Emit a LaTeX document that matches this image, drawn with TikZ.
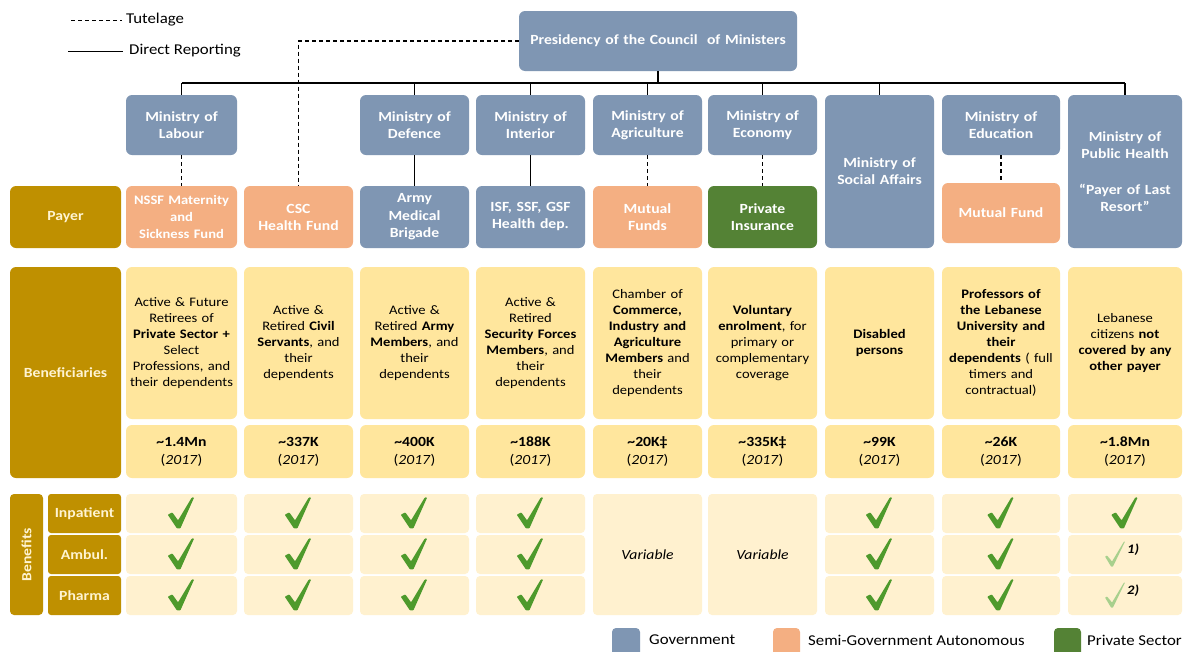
\documentclass[tikz,border=0pt]{standalone}
\usepackage{fontspec}
\setmainfont{Carlito}[FakeStretch=1.12]
\usetikzlibrary{calc}
\definecolor{gov}{HTML}{7F96B3}
\definecolor{semi}{HTML}{F4AF82}
\definecolor{priv}{HTML}{548235}
\definecolor{gold}{HTML}{BF9000}
\definecolor{benef}{HTML}{FFE69D}
\definecolor{benlight}{HTML}{FFF1CF}
\definecolor{chk}{HTML}{4E9A2C}
\definecolor{chklight}{HTML}{A8D08D}
\definecolor{paletext}{HTML}{FFF4D2}

\newcommand\cellbox[7]{%
 \pgfmathsetmacro\cw{#5-#3}\pgfmathsetmacro\ch{#6-#4}%
 \pgfmathsetmacro\cx{(#3+#5)/2}\pgfmathsetmacro\cy{(#4+#6)/2}%
 \pgfmathsetmacro\tw{#5-#3-4}%
 \node[#2, minimum width=\cw pt, minimum height=\ch pt, text width=\tw pt] (#1) at (\cx,\cy) {#7};}

\tikzset{
 box/.style={rounded corners=6pt, inner sep=2pt, align=center, font=\bfseries\fontsize{14}{17}\selectfont, text=white},
 govbox/.style={box, fill=gov},
 semibox/.style={box, fill=semi},
 privbox/.style={box, fill=priv},
 labbox/.style={box, fill=gold, text=paletext},
 descbox/.style={rounded corners=6pt, inner sep=2pt, align=center, fill=benef, text=black, font=\fontsize{13}{16}\selectfont},
 numbox/.style={descbox, font=\fontsize{14}{18}\selectfont},
 benbox/.style={rounded corners=4pt, inner sep=2pt, align=center, fill=benlight, text=black, font=\itshape\fontsize{14}{17}\selectfont},
 direct/.style={draw=black, line width=1.2pt},
 tut/.style={draw=black, line width=1.1pt, dash pattern=on 4pt off 3pt},
 legtext/.style={anchor=west, inner sep=0pt, font=\fontsize{15}{18}\selectfont},
 pics/tick/.style={code={
   \fill[#1, rounded corners=0.8pt, scale=1.15] (-12,1) -- (-8,-1) -- (-3,6) -- (9,-14) -- (11,-14) -- (-1,13) -- (-4,13) -- cycle;}},
 pics/thintick/.style={code={
   \fill[#1, rounded corners=0.5pt] (-10,2) -- (-8,1) -- (-3,7) -- (9,-13) -- (10,-13) -- (-2,12) -- (-4,12) -- cycle;}},
}

\begin{document}
\begin{tikzpicture}[x=1pt,y=-1pt]
\useasboundingbox (0,0) rectangle (1184,651);
\fill[white] (0,0) rectangle (1184,651);

% top-left legend
\coordinate (tA) at (71,20); \coordinate (tB) at (122,20);
\coordinate (dA) at (68,51); \coordinate (dB) at (123,51);
\draw[draw=black, line width=0.9pt, dash pattern=on 4pt off 3pt] (tA) -- (tB);
\draw[direct, line width=1pt] (dA) -- (dB);
\node[legtext] (tutl) at (126,20) {Tutelage};
\node[legtext] (dirl) at (129,51) {Direct Reporting};

% presidency
\cellbox{pres}{govbox}{519}{11}{797}{71}{Presidency of the Council\ \ of Ministers}

% ministries
\cellbox{m1}{govbox}{126}{95}{237}{155}{Ministry of\\Labour}
\cellbox{m3}{govbox}{360}{95}{469}{155}{Ministry of\\Defence}
\cellbox{m4}{govbox}{476}{95}{585}{155}{Ministry of\\Interior}
\cellbox{m5}{govbox}{593}{95}{702}{155}{Ministry of\\Agriculture}
\cellbox{m6}{govbox}{708}{95}{817}{155}{Ministry of\\Economy}
\cellbox{m7}{govbox}{825}{95}{934}{248}{Ministry of\\Social Affairs}
\cellbox{m8}{govbox}{942}{95}{1060}{155}{Ministry of\\Education}
\cellbox{m9}{govbox}{1068}{95}{1182}{248}{Ministry of\\Public Health\\[19pt]\textquotedblleft Payer of Last\\Resort\textquotedblright}

% payers
\cellbox{payer}{labbox}{10}{186}{121}{248}{Payer}
\cellbox{p1}{semibox, font=\bfseries\fontsize{13}{17}\selectfont}{126}{186}{237}{248}{NSSF Maternity\\and\\Sickness Fund}
\cellbox{p2}{semibox}{244}{186}{353}{248}{CSC\\Health Fund}
\cellbox{p3}{govbox, font=\bfseries\fontsize{14}{17.5}\selectfont}{360}{186}{469}{248}{Army\\Medical\\Brigade}
\cellbox{p4}{govbox}{476}{186}{585}{248}{ISF, SSF, GSF\\Health dep.}
\cellbox{p5}{semibox}{593}{186}{702}{248}{Mutual\\Funds}
\cellbox{p6}{privbox}{708}{186}{817}{248}{Private\\Insurance}
\cellbox{p8}{semibox}{942}{183}{1060}{243}{Mutual Fund}

% connectors
\coordinate (busy) at (0,83);
\draw[direct, line width=2.2pt] (pres.south) -- (pres.south |- busy);
\draw[direct] (m1.north |- busy) -- (m9.north |- busy);
\foreach \m in {m1,m3,m4,m5,m6,m7,m9} \draw[direct] (\m.north |- busy) -- (\m.north);
\draw[tut] (pres.west) -| (p2.north);
\draw[tut] (m1.south) -- (p1.north);
\draw[direct] (m3.south) -- (p3.north);
\draw[direct] (m4.south) -- (p4.north);
\draw[tut] (m5.south) -- (p5.north);
\draw[tut] (m6.south) -- (p6.north);
\draw[tut] (m8.south) -- (p8.north);

% beneficiaries
\cellbox{benl}{labbox}{10}{267}{121}{478}{Beneficiaries}
\cellbox{d1}{descbox}{126}{267}{237}{419}{Active \& Future\\Retirees of\\\textbf{Private Sector +}\\Select\\Professions, and\\their dependents}
\cellbox{d2}{descbox}{244}{267}{353}{419}{Active \&\\Retired \textbf{Civil}\\\textbf{Servants}, and\\their\\dependents}
\cellbox{d3}{descbox}{360}{267}{469}{419}{Active \&\\Retired \textbf{Army}\\\textbf{Members}, and\\their\\dependents}
\cellbox{d4}{descbox}{476}{267}{585}{419}{Active \&\\Retired\\\textbf{Security Forces}\\\textbf{Members}, and\\their\\dependents}
\cellbox{d5}{descbox}{593}{267}{702}{419}{Chamber of\\\textbf{Commerce,}\\\textbf{Industry and}\\\textbf{Agriculture}\\\textbf{Members} and\\their\\dependents}
\cellbox{d6}{descbox}{708}{267}{817}{419}{\textbf{Voluntary}\\\textbf{enrolment}, for\\primary or\\complementary\\coverage}
\cellbox{d7}{descbox}{825}{267}{934}{419}{\textbf{Disabled}\\\textbf{persons}}
\cellbox{d8}{descbox}{942}{267}{1060}{419}{\textbf{Professors of}\\\textbf{the Lebanese}\\\textbf{University and}\\\textbf{their}\\\textbf{dependents} ( full\\timers and\\contractual)}
\cellbox{d9}{descbox}{1068}{267}{1182}{419}{Lebanese\\citizens \textbf{not}\\\textbf{covered by any}\\\textbf{other payer}}

\cellbox{n1}{numbox}{126}{425}{237}{478}{\textbf{\textasciitilde1.4Mn}\\(\textit{2017})}
\cellbox{n2}{numbox}{244}{425}{353}{478}{\textbf{\textasciitilde337K}\\(\textit{2017})}
\cellbox{n3}{numbox}{360}{425}{469}{478}{\textbf{\textasciitilde400K}\\(\textit{2017})}
\cellbox{n4}{numbox}{476}{425}{585}{478}{\textbf{\textasciitilde188K}\\(\textit{2017})}
\cellbox{n5}{numbox}{593}{425}{702}{478}{\textbf{\textasciitilde20K‡}\\(\textit{2017})}
\cellbox{n6}{numbox}{708}{425}{817}{478}{\textbf{\textasciitilde335K‡}\\(\textit{2017})}
\cellbox{n7}{numbox}{825}{425}{934}{478}{\textbf{\textasciitilde99K}\\(\textit{2017})}
\cellbox{n8}{numbox}{942}{425}{1060}{478}{\textbf{\textasciitilde26K}\\(\textit{2017})}
\cellbox{n9}{numbox}{1068}{425}{1182}{478}{\textbf{\textasciitilde1.8Mn}\\(\textit{2017})}

% benefits
\node[labbox, rounded corners=4pt, minimum width=121pt, minimum height=33pt, inner sep=0pt, rotate=90] (benv) at (26.5,554.5) {Benefits};
\cellbox{r1}{labbox, rounded corners=3pt}{48}{494}{121}{533}{Inpatient}
\cellbox{r2}{labbox, rounded corners=3pt}{48}{535}{121}{574}{Ambul.}
\cellbox{r3}{labbox, rounded corners=3pt}{48}{576}{121}{615}{Pharma}

\foreach \i/\l/\r in {1/126/237, 2/244/353, 3/360/469, 4/476/585, 7/825/934, 8/942/1060, 9/1068/1182}{
  \cellbox{b\i a}{benbox}{\l}{494}{\r}{533}{}
  \cellbox{b\i b}{benbox}{\l}{535}{\r}{574}{}
  \cellbox{b\i c}{benbox}{\l}{576}{\r}{615}{}
}
\cellbox{b5}{benbox}{593}{494}{702}{615}{Variable}
\cellbox{b6}{benbox}{708}{494}{817}{615}{Variable}

\foreach \n in {1,2,3,4,7,8}{
  \pic at (b\n a.center) {tick=chk};
  \pic at (b\n b.center) {tick=chk};
  \pic at (b\n c.center) {tick=chk};
}
\pic at (b9a.center) {tick=chk};
\pic at ($(b9b.center)+(-10,0)$) {thintick=chklight};
\pic at ($(b9c.center)+(-10,0)$) {thintick=chklight};
\node[anchor=west, inner sep=0pt, font=\bfseries\itshape\fontsize{13}{15}\selectfont] (f1) at ($(b9b.center)+(2,-5)$) {1)};
\node[anchor=west, inner sep=0pt, font=\bfseries\itshape\fontsize{13}{15}\selectfont] (f2) at ($(b9c.center)+(2,-5)$) {2)};

% bottom legend
\fill[gov, rounded corners=4pt] (612,628) rectangle (640,660);
\node[legtext] (lg1) at (649,640) {Government};
\fill[semi, rounded corners=4pt] (773,628) rectangle (800,660);
\node[legtext] (lg2) at (808,640) {Semi-Government Autonomous};
\fill[priv, rounded corners=4pt] (1054,628) rectangle (1081,660);
\node[legtext] (lg3) at (1087,640) {Private Sector};
\end{tikzpicture}
\end{document}
